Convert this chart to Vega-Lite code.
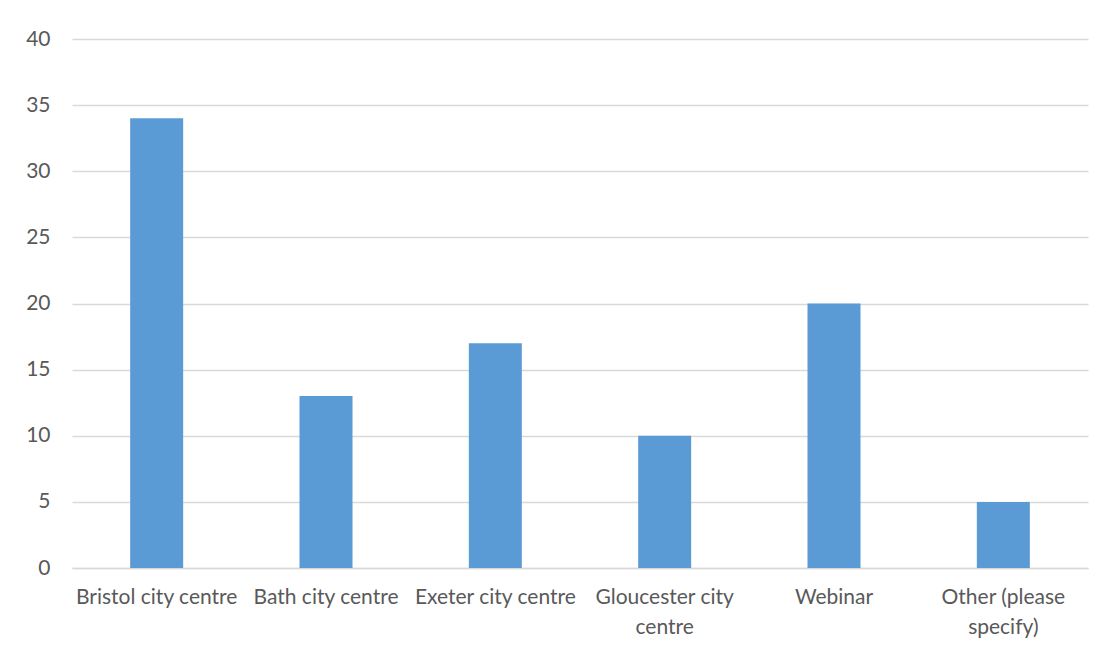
{
  "$schema": "https://vega.github.io/schema/vega-lite/v6.json",
  "autosize": {"type": "none"},
  "padding": {"left": 72, "top": 39, "right": 7, "bottom": 82},
  "width": 1016,
  "height": 529,
  "background": "white",
  "data": {"values": [
    {"location": "Bristol city centre", "count": 34},
    {"location": "Bath city centre", "count": 13},
    {"location": "Exeter city centre", "count": 17},
    {"location": "Gloucester city centre", "count": 10},
    {"location": "Webinar", "count": 20},
    {"location": "Other (please specify)", "count": 5}
  ]},
  "mark": {"type": "bar", "color": "#5B9BD5"},
  "encoding": {
    "x": {
      "field": "location", "type": "nominal", "sort": null, "title": null,
      "scale": {"paddingInner": 0.687, "paddingOuter": 0.3435},
      "axis": {
        "labelAngle": 0, "ticks": false, "domainColor": "#d9d9d9", "domainWidth": 1.5,
        "labelFont": "Lato", "labelFontSize": 21, "labelColor": "#595959",
        "labelPadding": 18, "labelLineHeight": 30, "labelLimit": 300,
        "labelExpr": "datum.value == 'Gloucester city centre' ? ['Gloucester city', 'centre'] : datum.value == 'Other (please specify)' ? ['Other (please', 'specify)'] : datum.value"
      }
    },
    "y": {
      "field": "count", "type": "quantitative", "title": null,
      "scale": {"domain": [0, 40]},
      "axis": {
        "values": [0, 5, 10, 15, 20, 25, 30, 35, 40],
        "domain": false, "ticks": false, "gridColor": "#d9d9d9", "gridWidth": 1.5,
        "labelFont": "Lato", "labelFontSize": 21, "labelColor": "#595959",
        "labelPadding": 22
      }
    }
  },
  "config": {"view": {"stroke": null}}
}
